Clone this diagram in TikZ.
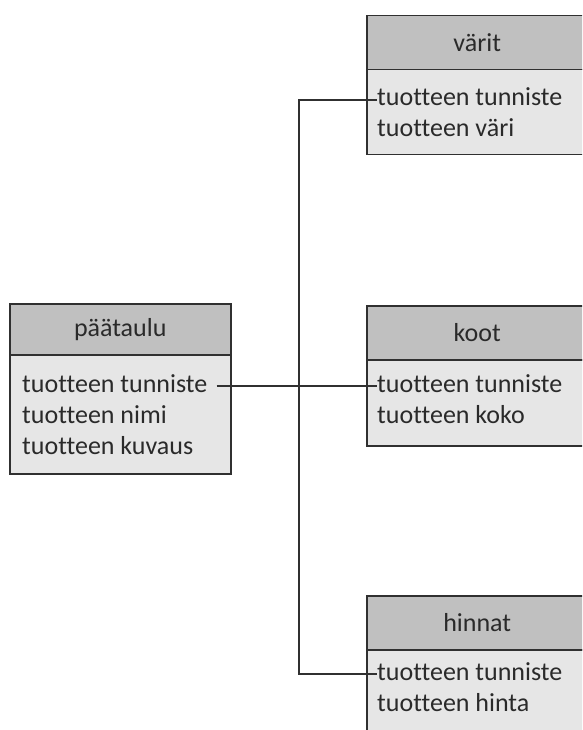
\documentclass[tikz,border=0pt]{standalone}
\usepackage{fontspec}
\setmainfont{Carlito}[Ligatures={NoCommon}]
\definecolor{hdrc}{HTML}{C0C0C0}
\definecolor{bdyc}{HTML}{E6E6E6}
\definecolor{bordc}{HTML}{303030}
\definecolor{txtc}{HTML}{2A2A2A}
\begin{document}
\begin{tikzpicture}[x=1pt,y=-1pt,
  hdr/.style={draw=bordc, fill=hdrc, line width=1.5pt, anchor=north west, minimum width=221pt, inner sep=0pt},
  bdy/.style={draw=bordc, fill=bdyc, line width=1.5pt, anchor=north west, minimum width=221pt, inner sep=0pt},
  title/.style={font=\fontsize{26}{31}\selectfont, text=txtc, inner sep=0pt},
  row/.style={font=\fontsize{26}{31}\selectfont, text=txtc, anchor=base west, inner sep=0pt},
  link/.style={draw=bordc, line width=1.3pt}]
\useasboundingbox (0,0) rectangle (582,730);
\clip (0,0) rectangle (582,730);
% paataulu
\node[bdy, minimum height=119pt] (pbody) at (9,354) {};
\node[hdr, minimum height=51pt] (phead) at (9,303) {};
\node[title] (ptitle) at (phead.center) {päätaulu};
\node[row] (p1) at (22,392) {tuotteen tunniste};
\node[row] (p2) at (22,423) {tuotteen nimi};
\node[row] (p3) at (22,454) {tuotteen kuvaus};
% varit
\node[bdy, minimum height=85pt] (vbody) at (366,69) {};
\node[hdr, minimum height=54pt] (vhead) at (366,15) {};
\node[title] (vtitle) at (vhead.center) {värit};
\node[row] (v1) at (377,106) {tuotteen tunniste};
\node[row] (v2) at (377,137) {tuotteen väri};
% koot
\node[bdy, minimum height=86pt] (kbody) at (366,359) {};
\node[hdr, minimum height=54pt] (khead) at (366,305) {};
\node[title] (ktitle) at (khead.center) {koot};
\node[row] (k1) at (377,392) {tuotteen tunniste};
\node[row] (k2) at (377,423) {tuotteen koko};
% hinnat
\node[bdy, minimum height=100pt] (hbody) at (366,649) {};
\node[hdr, minimum height=54pt] (hhead) at (366,595) {};
\node[title] (htitle) at (hhead.center) {hinnat};
\node[row] (h1) at (377,680) {tuotteen tunniste};
\node[row] (h2) at (377,711) {tuotteen hinta};
% connectors
\coordinate (ppin) at ([xshift=9pt,yshift=6pt]p1.base east);
\coordinate (vpin) at ([yshift=6pt]v1.base west);
\coordinate (kpin) at ([yshift=6pt]k1.base west);
\coordinate (hpin) at ([yshift=6pt]h1.base west);
\coordinate (bus) at (299,0);
\draw[link] (vpin) -| (bus |- hpin) -- (hpin);
\draw[link] (ppin) -- (kpin);
\end{tikzpicture}
\end{document}
